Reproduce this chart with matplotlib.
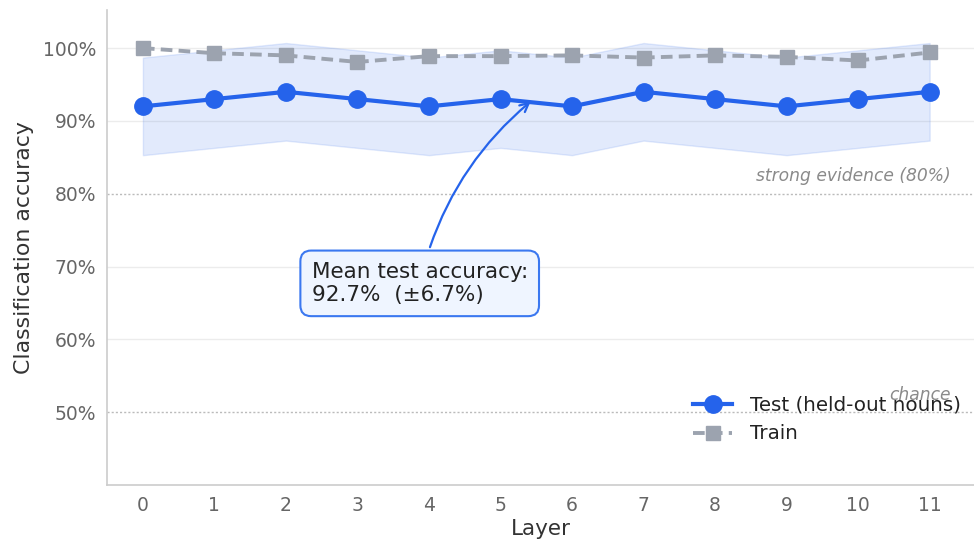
import matplotlib
matplotlib.use("Agg")
import matplotlib.pyplot as plt
import numpy as np

layers = list(range(12))
test_acc = [0.92, 0.93, 0.94, 0.93, 0.92, 0.93, 0.92, 0.94, 0.93, 0.92, 0.93, 0.94]
train_acc = [1.00, 0.993, 0.990, 0.981, 0.989, 0.989, 0.990, 0.987, 0.990, 0.988, 0.983, 0.994]
band_std = 0.067
yticks = [0.5, 0.6, 0.7, 0.8, 0.9, 1.0]
ytick_labels = ["50%", "60%", "70%", "80%", "90%", "100%"]
ref_lines = [0.8, 0.5]
ref_labels = ["strong evidence (80%)", "chance"]
annot_text = "Mean test accuracy:\n92.7%  (±6.7%)"

BLUE = "#2563eb"
GRAY = "#9ca3af"

fig = plt.figure(figsize=(9.74, 5.39), dpi=100)
ax = fig.add_axes([0.11, 0.1, 0.89, 0.881])

t = np.array(test_acc)
ax.fill_between(layers, t - band_std, t + band_std, color=BLUE, alpha=0.13,
                linewidth=1, edgecolor=(0.15, 0.39, 0.92, 0.15), zorder=1)

for y in yticks:
    if y not in ref_lines:
        ax.axhline(y, color="#ececec", lw=1, zorder=0)
for y, lab in zip(ref_lines, ref_labels):
    ax.axhline(y, color="#bbbbbb", lw=1, ls=(0, (1.5, 1.5)), zorder=0.5)
    ax.text(11.3, y + 0.012, lab, ha="right", va="bottom", fontsize=12.3,
            style="italic", color="#8a8a8a", zorder=0.6)

ax.plot(layers, train_acc, color=GRAY, lw=2.8, ls=(0, (3, 1.6)), marker="s",
        markersize=9.5, label="Train", zorder=3)
ax.plot(layers, test_acc, color=BLUE, lw=3, marker="o", markersize=12.5,
        label="Test (held-out nouns)", zorder=4)

ax.set_xlim(-0.5, 11.62)
ax.set_ylim(0.40, 1.052)
ax.set_xticks(layers)
ax.set_yticks(yticks)
ax.set_yticklabels(ytick_labels)
ax.tick_params(axis="both", labelsize=13.5, colors="#666666", length=0, pad=8)
ax.set_xlabel("Layer", fontsize=15.5, color="#333333", labelpad=3)
ax.set_ylabel("Classification accuracy", fontsize=15.8, color="#333333", labelpad=6)

for s in ["top", "right"]:
    ax.spines[s].set_visible(False)
for s in ["left", "bottom"]:
    ax.spines[s].set_color("#cccccc")
    ax.spines[s].set_linewidth(1.2)

ax.annotate(annot_text, xy=(5.45, 0.929), xytext=(3.87, 0.677),
            ha="center", va="center", multialignment="left", fontsize=15.5,
            color="#222222",
            bbox=dict(boxstyle="round,pad=0.52,rounding_size=0.5", fc="#eff5ff",
                      ec="#3b78f0", lw=1.5),
            arrowprops=dict(arrowstyle="->", color=BLUE, lw=1.6,
                            connectionstyle="arc3,rad=-0.17", shrinkB=2),
            zorder=5)

handles, labels = ax.get_legend_handles_labels()
leg = ax.legend(handles[::-1], labels[::-1], loc="lower right",
                bbox_to_anchor=(1.006, 0.05), frameon=False, fontsize=14.3,
                handlelength=2.0, handletextpad=0.9, labelcolor="#222222")

fig.savefig("out.png", dpi=100)
